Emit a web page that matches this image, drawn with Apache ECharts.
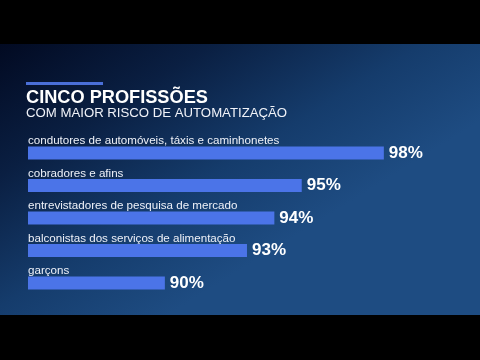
<!DOCTYPE html>
<html><head><meta charset="utf-8">
<script src="https://cdn.jsdelivr.net/npm/echarts@6/dist/echarts.min.js"></script>
<style>html,body{margin:0;padding:0;background:#000}#c{width:480px;height:360px}</style>
</head><body><div id="c"></div>
<script>
const categories = [
  'condutores de automóveis, táxis e caminhonetes',
  'cobradores e afins',
  'entrevistadores de pesquisa de mercado',
  'balconistas dos serviços de alimentação',
  'garçons'
];
const values = [98, 95, 94, 93, 90];
const titleText = 'CINCO PROFISSÕES';
const subtitleText = 'COM MAIOR RISCO DE AUTOMATIZAÇÃO';

const chart = echarts.init(document.getElementById('c'), null, {renderer: 'canvas'});
const font = '"Liberation Sans", Arial, Helvetica, sans-serif';
chart.setOption({
  backgroundColor: '#000',
  animation: false,
  graphic: [
    {type: 'rect', z: -10, shape: {x: 0, y: 44, width: 480, height: 271},
     style: {fill: new echarts.graphic.LinearGradient(0, 0, 0.35, 1, [
       {offset: 0, color: '#020a22'},
       {offset: 0.35, color: '#0a1f42'},
       {offset: 0.7, color: '#153c6c'},
       {offset: 1, color: '#1e4c82'}
     ])}},
    {type: 'rect', shape: {x: 26, y: 82, width: 77, height: 3}, style: {fill: '#4a6fd8'}},
    {type: 'text', left: 26, top: 89, style: {text: titleText, fill: '#ffffff', font: 'bold 18.2px ' + font}},
    {type: 'text', left: 26, top: 107, style: {text: subtitleText, fill: '#f0f2f8', font: '13.2px ' + font}}
  ],
  grid: {left: 28, top: 136.75, width: 410.6, bottom: 60.75, containLabel: false},
  xAxis: {type: 'value', min: 85, max: 100, show: false},
  yAxis: {
    type: 'category', data: categories, inverse: true,
    axisLine: {show: false}, axisTick: {show: false}, splitLine: {show: false},
    axisLabel: {inside: true, margin: 0, verticalAlign: 'bottom', padding: [0, 0, 6, 0],
      color: '#eef1f8', fontSize: 11.6, fontFamily: font}
  },
  series: [{
    type: 'bar', data: values, barWidth: 13,
    itemStyle: {color: '#4b74e8'},
    label: {show: true, position: 'right', distance: 5, formatter: '{c}%',
      color: '#ffffff', fontSize: 17, fontWeight: 'bold', fontFamily: font}
  }]
});
</script></body></html>
